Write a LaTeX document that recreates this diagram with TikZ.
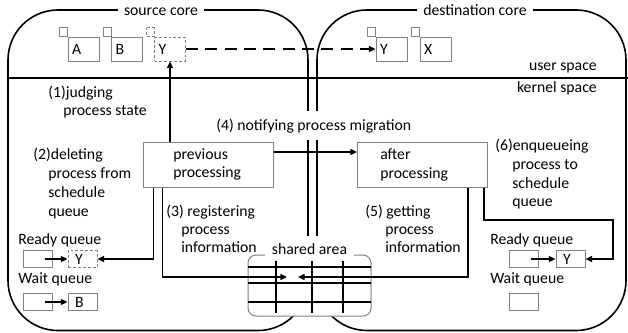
\documentclass[tikz,border=0pt]{standalone}
\usepackage{fontspec}
\setmainfont{Carlito}
\usetikzlibrary{arrows.meta,calc}
\definecolor{bgray}{HTML}{808080}
\begin{document}
\begin{tikzpicture}[x=0.75pt,y=-0.75pt,
  every node/.style={font=\fontsize{11.8pt}{14pt}\selectfont, inner sep=0pt},
  lbl/.style={anchor=base west},
  core/.style={draw=black, line width=1.2pt, rounded corners=37.5pt, rectangle},
  proc/.style={draw=bgray, line width=0.75pt, minimum width=23.25pt, minimum height=18pt,
    text width=17pt, inner xsep=3.1pt, align=left},
  qbox/.style={draw=bgray, line width=0.75pt, minimum width=21.75pt, minimum height=12.4pt,
    text width=11pt, inner xsep=5.3pt, align=left},
  dashbox/.style={dash pattern=on 2.2pt off 1.5pt},
  tab/.style={draw=bgray, line width=0.75pt},
  pbox/.style={draw=bgray, line width=0.75pt, rectangle, minimum width=97.5pt, minimum height=33.75pt},
  conn/.style={draw=black, line width=1.1pt},
  thin/.style={draw=black, line width=0.8pt},
  tip/.style={-{Triangle[length=5pt,width=4.5pt]}},
  gridline/.style={draw=black, line width=0.9pt},
  title/.style={fill=white, inner xsep=4.5pt, inner ysep=2pt, anchor=base}
]
\useasboundingbox (0,0) rectangle (628,332);

% cores
\node[core, minimum width=225pt, minimum height=240.4pt] (src) at (158,170.25) {};
\node[core, minimum width=231.75pt, minimum height=240.4pt] (dst) at (471.5,170.25) {};
\node[title] (srct) at (161,15.7) {source core};
\node[title] (dstt) at (475,15.7) {destination core};

% user / kernel separator
\coordinate (sepL) at (7,78);
\coordinate (sepR) at (628,78);
\draw[line width=1.4pt] (sepL) -- (sepR);
\node[anchor=base east] (us) at (597,70) {user space};
\node[anchor=base east] (ks) at (597,92) {kernel space};

% user space processes
\node[proc] (pa) at (83.5,49) {A};
\node[proc] (pb) at (127,49) {B};
\node[proc, dashbox] (py1) at (170,49) {Y};
\node[proc] (py2) at (391.5,49) {Y};
\node[proc] (px) at (435.5,49) {X};
\draw[tab] ($(pa.north west)+(-8,-9)$) rectangle (pa.north west);
\draw[tab] ($(pb.north west)+(-8,-9)$) rectangle (pb.north west);
\draw[tab, dashbox] ($(py1.north west)+(-8,-9)$) rectangle (py1.north west);
\draw[tab] ($(py2.north west)+(-8,-9)$) rectangle (py2.north west);
\draw[tab] ($(px.north west)+(-8,-9)$) rectangle (px.north west);
\draw[conn, tip, dash pattern=on 9pt off 5.5pt] (py1.east) -- (py2.west);

% processing boxes
\node[pbox] (prev) at (208,164.5) {};
\node[pbox] (after) at (422.5,164.5) {};
\node[lbl] (prevt1) at (173,159) {previous};
\node[lbl] (prevt2) at (173,177.5) {processing};
\node[lbl] (aftert1) at (380,159) {after};
\node[lbl] (aftert2) at (380,178) {processing};

% labels
\node[lbl] (t1a) at (48,97) {(1)judging};
\node[lbl] (t1b) at (63,115) {process state};
\node[lbl] (t2a) at (33,159) {(2)deleting};
\node[lbl] (t2b) at (48,178) {process from};
\node[lbl] (t2c) at (48,197) {schedule};
\node[lbl] (t2d) at (48,216) {queue};
\node[lbl] (t3a) at (166,216) {(3) registering};
\node[lbl] (t3b) at (181,234) {process};
\node[lbl] (t3c) at (181,252) {information};
\node[lbl, fill=white, inner ysep=5.5pt] (t4) at (216,130) {(4) notifying process migration};
\node[lbl] (t5a) at (365,216) {(5) getting};
\node[lbl] (t5b) at (385,234) {process};
\node[lbl] (t5c) at (385,252) {information};
\node[lbl] (t6a) at (495,150) {(6)enqueueing};
\node[lbl] (t6b) at (512,169) {process to};
\node[lbl] (t6c) at (512,188) {schedule};
\node[lbl] (t6d) at (512,206) {queue};

% queues
\node[lbl] (rq1) at (18,244) {Ready queue};
\node[lbl] (wq1) at (18,283) {Wait queue};
\node[lbl] (rq2) at (490,244) {Ready queue};
\node[lbl] (wq2) at (490,283) {Wait queue};
\node[qbox] (qe1) at (37.5,259) {};
\node[qbox, dashbox] (qy1) at (82.5,259) {Y};
\node[qbox] (qe2) at (37.5,302) {};
\node[qbox] (qb) at (82.5,302) {B};
\node[qbox] (qe3) at (523.5,259) {};
\node[qbox] (qy3) at (570.5,259) {Y};
\node[qbox] (qe4) at (523.5,302) {};
\draw[thin, tip] ([xshift=-6pt]qe1.east) -- (qy1.west);
\draw[thin, tip] ([xshift=-6pt]qe2.east) -- (qb.west);
\draw[thin, tip] ([xshift=-6pt]qe3.east) -- (qy3.west);

% shared area
\node[draw=bgray, line width=0.75pt, fill=white, rounded corners=6pt, rectangle,
      minimum width=92.25pt, minimum height=45.75pt] (sa) at (309.5,285.5) {};
\node[fill=white, inner xsep=5pt, inner ysep=5pt, anchor=base] (sat) at (309.5,254) {shared area};
\draw[gridline] (248,267) -- (371,267);
\draw[gridline] (248,283) -- (371,283);
\draw[gridline] (248,302) -- (371,302);
\draw[gridline] (276,261) -- (276,313);
\draw[gridline] (312,261) -- (312,313);
\draw[gridline] (343,261) -- (343,313);
\coordinate (tipL) at (287,277);
\coordinate (tipR) at (298,277);
\coordinate (bend) at (613,220);

% connectors
\draw[conn, tip] (prev.north -| py1.south) -- (py1.south);
\draw[conn, tip] ([yshift=9.4pt]prev.east) -- ([yshift=9.4pt]after.west);
\draw[conn, tip] ([xshift=8.25pt]prev.south west) |- (qy1.east);
\draw[conn, tip] ([xshift=15pt]prev.south west) |- (tipL);
\draw[conn, tip] ([xshift=-15pt]after.south east) |- (tipR);
\draw[conn, tip] ([xshift=-3pt]after.south east) |- (bend) |- (qy3.east);
\end{tikzpicture}
\end{document}
